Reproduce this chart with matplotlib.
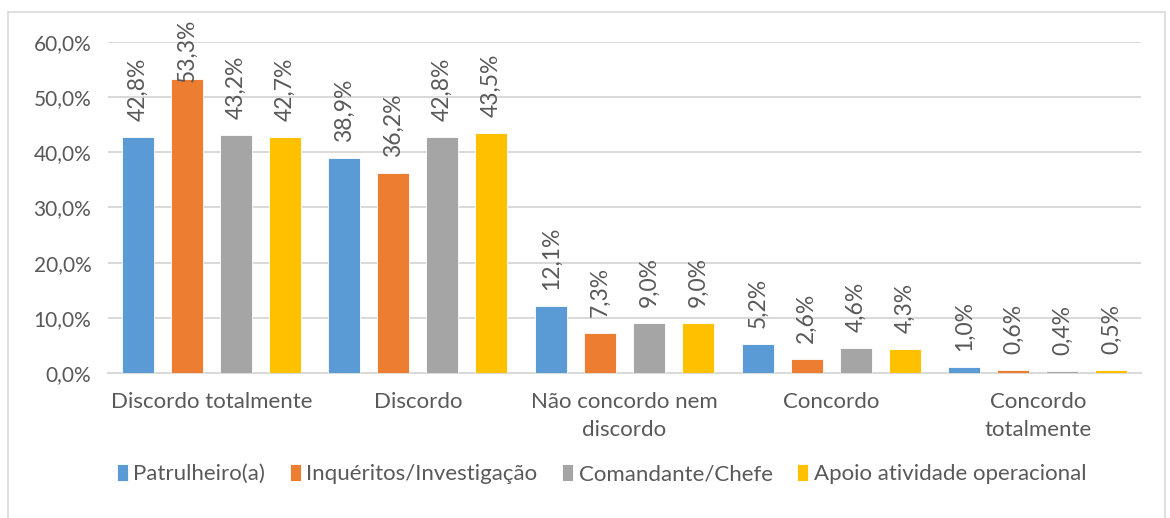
import matplotlib.pyplot as plt
import matplotlib.patches as patches
import numpy as np

plt.rcParams['font.family'] = ['Lato', 'DejaVu Sans']

# data
categories = ["Discordo totalmente", "Discordo", "Não concordo nem\ndiscordo",
              "Concordo", "Concordo\ntotalmente"]
series = ["Patrulheiro(a)", "Inquéritos/Investigação", "Comandante/Chefe",
          "Apoio atividade operacional"]
patrulheiro = [0.428, 0.389, 0.121, 0.052, 0.010]
inqueritos = [0.533, 0.362, 0.073, 0.026, 0.006]
comandante = [0.432, 0.428, 0.090, 0.046, 0.004]
apoio = [0.427, 0.435, 0.090, 0.043, 0.005]
values = [patrulheiro, inqueritos, comandante, apoio]
colors = ["#5b9bd5", "#ed7d31", "#a5a5a5", "#ffc000"]
text_color = "#595959"

fig = plt.figure(figsize=(11.7, 5.18), dpi=100)
ax = fig.add_axes([0.0923, 0.28, 0.8830, 0.639])

x = np.arange(len(categories))
step = 0.237
width = 0.155
for i, (name, vals, c) in enumerate(zip(series, values, colors)):
    pos = x + (i - 1.5) * step
    ax.bar(pos, vals, width, color=c, edgecolor="white", linewidth=0.6, label=name, zorder=3)
    for p, v in zip(pos, vals):
        y = min(v + 0.029, 0.527)
        ax.text(p, y, f"{v*100:.1f}%".replace(".", ","), rotation=90,
                ha="center", va="bottom", fontsize=16.5, color=text_color, clip_on=False)

ax.set_xlim(-0.5, len(categories) - 0.5)
ax.set_ylim(0, 0.6)
ax.set_yticks(np.arange(0, 0.61, 0.1))
ax.set_yticklabels([f"{t*100:.1f}%".replace(".", ",") for t in np.arange(0, 0.61, 0.1)],
                   fontsize=15, color=text_color)
ax.set_xticks(x)
ax.set_xticklabels(categories, fontsize=16, color=text_color, linespacing=1.5)
ax.tick_params(length=0, pad=14)
ax.tick_params(axis="y", pad=12)
ax.grid(axis="y", color="#d9d9d9", linewidth=1.4, zorder=0)
for s in ["top", "right", "left"]:
    ax.spines[s].set_visible(False)
ax.spines["bottom"].set_color("#d9d9d9")
ax.spines["bottom"].set_linewidth(1.4)

fig.legend(loc="center", bbox_to_anchor=(0.514, 0.085), ncol=4, frameon=False,
           fontsize=16, labelcolor=text_color, handlelength=0.5, handleheight=0.8,
           handletextpad=0.25, columnspacing=1.1)

# chart border
fig.patches.append(patches.Rectangle((8 / 1170, -0.01), 1157 / 1170, 1 - 12 / 518 + 0.01,
                                     transform=fig.transFigure, fill=False,
                                     edgecolor="#d9d9d9", linewidth=1.2))

fig.savefig("out.png", dpi=100)
